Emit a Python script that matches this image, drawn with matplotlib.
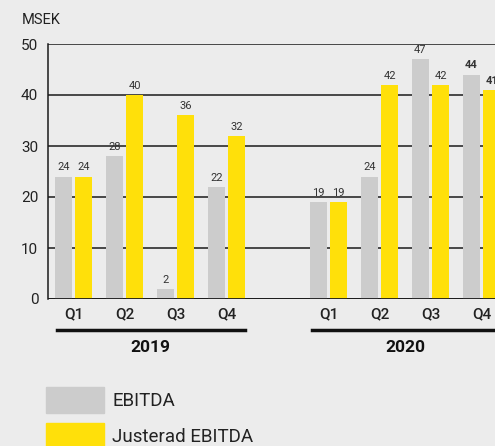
import matplotlib
matplotlib.use("Agg")
import matplotlib.pyplot as plt
import numpy as np
from matplotlib.patches import Rectangle
from matplotlib.lines import Line2D
from matplotlib.transforms import blended_transform_factory

plt.rcParams["font.family"] = ["Roboto", "DejaVu Sans"]

YEARS = ["2019", "2020"]
QUARTERS = ["Q1", "Q2", "Q3", "Q4"]
EBITDA = [24, 28, 2, 22, 19, 24, 47, 44]
JUSTERAD = [24, 40, 36, 32, 19, 42, 42, 41]
BOLD_LABELS = [7]  # 2020 Q4 shown in bold

BG = "#ececec"
GRAY = "#cccccc"
YELLOW = "#ffe00a"
TEXT = "#222222"

# slot positions: 4 quarters, one empty slot, 4 quarters
pos = np.array([0, 1, 2, 3, 5, 6, 7, 8], dtype=float)
w = 0.335
off = 0.2

fig = plt.figure(figsize=(4.95, 4.46), dpi=100, facecolor=BG)
ax = fig.add_axes([48 / 495, 147 / 446, 459 / 495, 255 / 446], facecolor=BG)

b1 = ax.bar(pos - off, EBITDA, w, color=GRAY, zorder=3)
b2 = ax.bar(pos + off, JUSTERAD, w, color=YELLOW, zorder=3)

for bars, vals in ((b1, EBITDA), (b2, JUSTERAD)):
    for i, (bar, v) in enumerate(zip(bars, vals)):
        ax.annotate(str(v), (bar.get_x() + bar.get_width() / 2, v),
                    xytext=(0, 3), textcoords="offset points",
                    ha="center", va="bottom", fontsize=8, color="#333333",
                    fontweight="bold" if i in BOLD_LABELS else "normal",
                    zorder=4)

ax.set_xlim(-0.5, 8.5)
ax.set_ylim(0, 50)
ax.set_yticks([0, 10, 20, 30, 40, 50])
ax.yaxis.grid(True, color="#1a1a1a", linewidth=1.1, zorder=1)
ax.set_axisbelow(True)
ax.axhline(0, color="#1a1a1a", linewidth=1.3, zorder=5)
for s in ("top", "right", "bottom"):
    ax.spines[s].set_visible(False)
ax.spines["left"].set_color("#1a1a1a")
ax.spines["left"].set_linewidth(1.1)

ax.set_xticks(pos)
ax.set_xticklabels(QUARTERS * 2, fontsize=11, fontweight="medium", color=TEXT)
ax.tick_params(axis="x", length=0, pad=6)
ax.tick_params(axis="y", length=0, pad=7, labelsize=11, labelcolor=TEXT)

fig.text(22 / 495, 1 - 20 / 446, "MSEK", fontsize=10.5, color=TEXT,
         ha="left", va="center")

# year underlines and labels
tr = blended_transform_factory(ax.transData, fig.transFigure)
for k, year in enumerate(YEARS):
    p = pos[k * 4:(k + 1) * 4]
    line = Line2D([p[0] - 0.33, p[-1] + 0.36], [1 - 330 / 446] * 2,
                  transform=tr, color="#111111", linewidth=2.5,
                  clip_on=False)
    fig.add_artist(line)
    fig.text(p.mean(), 1 - 348 / 446, year, transform=tr, ha="center",
             va="center", fontsize=12.5, fontweight="bold", color="#111111")

# legend
fig.add_artist(Rectangle((46 / 495, 1 - 413 / 446), 58 / 495, 26 / 446,
                         transform=fig.transFigure, color=GRAY))
fig.add_artist(Rectangle((46 / 495, 1 - 449 / 446), 58 / 495, 26 / 446,
                         transform=fig.transFigure, color=YELLOW))
fig.text(112 / 495, 1 - 401 / 446, "EBITDA", fontsize=13.5, color=TEXT,
         ha="left", va="center")
fig.text(112 / 495, 1 - 437 / 446, "Justerad EBITDA", fontsize=13.5,
         color=TEXT, ha="left", va="center")

fig.savefig("out.png", dpi=100, facecolor=BG)
